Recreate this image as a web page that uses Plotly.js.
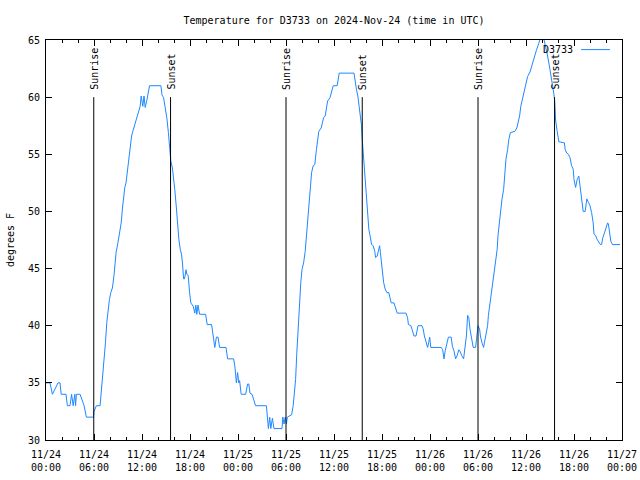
<!DOCTYPE html>
<html>
<head>
<meta charset="utf-8">
<script src="https://cdn.plot.ly/plotly-3.0.1.min.js"></script>
<style>
html,body{margin:0;padding:0;background:#fff;}
#chart{width:640px;height:480px;}
</style>
</head>
<body>
<div id="chart"></div>
<script>
// Hours since 2024-11-24 00:00 UTC
var hours = [
0,0.5,0.8,1.5,1.75,1.9,2.5,2.67,3.0,3.2,3.4,3.6,3.7,3.8,4.26,4.55,4.76,5.05,5.93,6.0,
6.3,6.76,6.93,7.1,7.26,7.43,7.6,7.76,7.93,8.1,8.3,8.5,8.64,8.76,9.0,9.2,9.4,9.56,9.68,9.85,
10.0,10.18,10.35,10.5,10.7,10.85,11.1,11.27,11.43,11.6,11.77,11.9,12.1,12.25,12.4,12.6,12.8,12.94,14.36,14.5,
14.7,14.9,15.1,15.3,15.5,15.6,15.8,15.94,16.1,16.3,16.44,16.6,16.78,16.95,17.07,17.2,17.32,17.5,17.6,17.77,
17.95,18.1,18.4,18.6,18.73,18.85,19.0,19.2,19.95,20.15,20.7,20.9,21.1,21.3,21.5,21.7,22.5,22.7,23.45,23.6,
23.8,23.95,24.1,24.2,24.4,24.96,25.2,25.35,25.5,25.75,25.96,26.2,27.55,27.7,27.8,27.96,28.1,28.3,28.5,29.5,
29.6,29.75,29.9,30.05,30.17,30.4,30.7,30.9,31.05,31.2,31.35,31.5,31.7,31.85,32.0,32.2,32.4,32.55,32.7,32.9,
33.05,33.2,33.4,33.6,33.8,33.95,34.1,34.4,34.56,34.7,34.9,35.05,35.2,35.5,35.7,35.9,36.4,36.65,38.5,38.65,
38.8,38.98,39.15,39.3,39.44,39.5,39.6,39.7,39.86,39.98,40.1,40.2,40.36,40.5,40.7,40.9,41.1,41.2,41.4,41.6,
41.7,41.8,41.95,42.1,42.2,42.4,42.6,42.85,43.0,43.15,43.5,43.7,43.9,45.0,45.2,45.3,45.6,45.75,46.0,46.25,
46.5,47.0,47.15,47.3,47.5,47.7,47.83,47.96,48.1,49.4,49.58,49.75,49.9,50.1,50.3,50.65,50.8,51.0,51.2,51.4,
51.6,51.8,51.95,52.2,52.42,52.55,52.7,52.85,53.0,53.2,53.3,53.4,53.7,53.85,54.0,54.2,54.3,54.5,54.7,54.8,
55.0,55.2,55.3,55.5,55.7,55.85,56.0,56.2,56.4,56.5,56.7,56.9,57.0,57.2,57.35,57.5,57.7,57.85,58.05,58.6,
58.85,59.0,59.2,59.35,59.5,59.7,59.85,60.0,60.2,60.5,60.8,61.0,61.3,61.6,61.8,62.2,62.4,62.7,63.0,63.2,
63.5,63.6,63.7,63.9,64.1,64.8,64.9,65.1,65.3,65.5,65.7,65.9,66.0,66.2,66.3,66.4,66.6,66.8,66.95,67.15,
67.4,67.5,67.6,67.8,68.0,68.2,68.4,68.5,68.7,68.85,69.1,69.3,69.45,69.6,69.8,70.0,70.2,70.3,70.45,70.6,
70.8,71.75
];
var tempsF = [
35.0,35.0,34.0,35.0,35.0,34.0,34.0,33.0,33.0,34.0,33.0,34.0,33.0,34.0,34.0,33.5,33.0,32.0,32.0,32.5,
33.0,33.0,34.4,35.5,36.5,38.5,40.3,41.4,42.3,42.9,43.3,44.4,45.5,46.4,47.3,48.1,49.0,50.3,51.4,52.1,
52.5,53.5,54.4,55.6,56.6,57.0,57.6,58.1,58.4,58.8,59.2,60.1,59.2,60.1,59.1,59.7,60.3,61.0,61.0,60.2,
59.95,59.2,58.2,56.9,55.6,54.4,53.8,53.1,51.9,50.3,48.7,47.6,46.7,46.2,45.4,44.1,44.1,44.9,44.5,44.4,
42.9,42.0,41.7,41.1,41.8,41.0,41.8,41.0,41.0,40.1,40.1,39.1,38.1,39.0,39.0,38.1,38.1,37.1,37.1,36.5,
35.0,35.9,35.0,35.2,34.0,34.0,34.9,34.9,34.1,34.0,33.6,33.0,33.0,32.0,31.0,32.0,31.0,31.9,31.0,31.0,
32.0,31.4,32.0,31.4,32.0,32.1,32.2,33.0,33.9,35.3,37.6,39.7,42.3,43.8,44.9,45.5,46.5,47.9,49.3,51.1,
52.5,53.4,54.0,54.1,55.4,56.3,57.0,57.3,57.9,58.2,58.35,59.2,59.66,59.95,60.4,61.0,61.0,62.1,62.1,61.3,
60.7,60.1,59.2,58.1,57.5,56.6,55.6,54.7,53.7,52.4,51.1,49.6,48.4,47.9,47.1,47.0,46.5,45.96,46.1,46.7,
47.0,46.4,45.5,44.6,43.8,43.2,42.9,42.9,42.5,42.0,42.0,41.6,41.1,41.1,40.7,40.1,40.0,39.7,39.1,39.1,
40.0,40.0,39.7,39.1,38.5,38.1,38.5,39.0,38.1,38.1,37.9,37.1,37.8,38.4,39.0,39.0,38.2,37.8,37.1,37.4,
37.9,37.7,37.4,37.1,38.1,39.1,40.9,40.7,39.7,39.0,38.5,38.1,38.1,39.0,40.0,39.7,39.1,38.5,38.1,38.5,
39.4,40.0,40.9,42.0,43.2,44.1,44.9,45.8,46.7,47.9,49.3,50.5,51.1,51.9,53.1,54.6,55.4,56.3,56.9,57.0,
57.3,57.8,58.35,59.2,59.7,60.3,60.8,61.3,61.8,62.2,63.0,63.5,64.1,64.7,65.2,65.2,64.6,63.6,62.4,61.6,
60.2,59.5,58.0,57.0,56.1,56.0,55.4,55.1,55.0,54.7,54.0,53.7,52.8,52.1,52.5,52.8,53.1,51.9,51.1,50.0,
50.0,50.6,51.1,50.8,50.5,49.9,49.0,48.0,47.9,47.6,47.3,47.1,47.1,47.7,48.1,48.6,49.0,48.9,48.1,47.4,
47.1,47.1
];
var seriesName = "D3733";
var sunHours = [5.97, 15.57, 30.0, 39.53, 54.0, 63.57];
var sunLabels = ["Sunrise", "Sunset", "Sunrise", "Sunset", "Sunrise", "Sunset"];
var tickHours = [0,6,12,18,24,30,36,42,48,54,60,66,72];
var tickDates = ["11/24","11/24","11/24","11/24","11/25","11/25","11/25","11/25","11/26","11/26","11/26","11/26","11/27"];
var tickTimes = ["00:00","06:00","12:00","18:00","00:00","06:00","12:00","18:00","00:00","06:00","12:00","18:00","00:00"];

var FONT = "DejaVu Sans Mono, monospace";
var lineColor = "#1e88ff";

var ticktext = tickDates.map(function(d, i){ return d + "<br>" + tickTimes[i]; });

var shapes = [];
var annotations = [];
sunHours.forEach(function(h, i){
  shapes.push({type:"line", xref:"x", yref:"y", x0:h, x1:h, y0:30, y1:60,
               line:{color:"#000", width:1}});
  annotations.push({xref:"x", yref:"y", x:h, y:60.45, text:sunLabels[i], textangle:-90,
                    showarrow:false, xanchor:"center", yanchor:"bottom",
                    font:{family:FONT, size:10, color:"#000"}});
});
// legend (gnuplot style: text then sample line)
annotations.push({xref:"paper", yref:"paper", x:0.918, y:0.976, text:seriesName,
                  showarrow:false, xanchor:"right", yanchor:"middle",
                  font:{family:FONT, size:10, color:"#000"}});
shapes.push({type:"line", xref:"paper", yref:"paper", x0:0.929, x1:0.979, y0:0.976, y1:0.976,
             line:{color:lineColor, width:1}});

var trace = {
  x: hours, y: tempsF, type:"scatter", mode:"lines", name: seriesName,
  line:{color:lineColor, width:1}, showlegend:false
};

var layout = {
  width:640, height:480,
  margin:{l:46, r:18, t:40, b:40},
  paper_bgcolor:"#fff", plot_bgcolor:"#fff",
  font:{family:FONT, size:10, color:"#000"},
  title:{text:"Temperature for D3733 on 2024-Nov-24 (time in UTC)", x:0.5, xref:"paper",
         y:0.958, yanchor:"middle", font:{family:FONT, size:10, color:"#000"}},
  xaxis:{range:[0,72], tickmode:"array", tickvals:tickHours, ticktext:ticktext,
         ticks:"inside", ticklen:6, tickcolor:"#000", showline:true, linecolor:"#000", linewidth:1,
         mirror:"ticks", showgrid:false, zeroline:false, fixedrange:true, ticklabelstandoff:5,
         minor:{dtick:2, tick0:0, ticks:"inside", ticklen:3, tickcolor:"#000", showgrid:false},
         tickfont:{family:FONT, size:10, color:"#000"}},
  yaxis:{range:[30,65], dtick:5, tick0:30, ticks:"inside", ticklen:6, tickcolor:"#000",
         showline:true, linecolor:"#000", linewidth:1, mirror:"ticks",
         showgrid:false, zeroline:false, ticklabelstandoff:3,
         title:{text:"degrees F", standoff:11, font:{family:FONT, size:10, color:"#000"}},
         tickfont:{family:FONT, size:10, color:"#000"}},
  shapes:shapes, annotations:annotations, showlegend:false
};

Plotly.newPlot("chart", [trace], layout, {staticPlot:true, displayModeBar:false});
</script>
</body>
</html>
